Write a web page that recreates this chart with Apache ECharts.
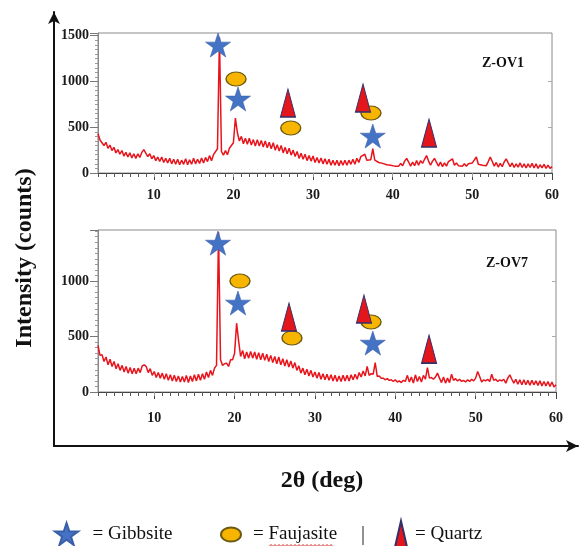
<!DOCTYPE html>
<html><head><meta charset="utf-8">
<script src="https://cdn.jsdelivr.net/npm/echarts@6/dist/echarts.min.js"></script>
<style>html,body{margin:0;padding:0;background:#fff}#c{width:579px;height:546px}</style>
</head><body><div id="c"></div>
<script>
// 2θ sampling grid: 3.00 … 60.00 deg, 0.25 deg step
const START = 3, STEP = 0.25;

// Z-OV1 intensities (counts), 4 samples per degree, rows = 3°,4°,…,59°, then 60°
const intensityOV1 = [
 430,360,370,300, 335,270,305,245, 280,220,255,205, 245,185,225,175,
 220,165,210,160, 210,170,225,255, 240,180,210,155, 190,135,175,125,
 175,115,160,110, 160,100,150,95, 150,90,140,95, 155,90,145,95,
 160,100,150,105, 165,110,170,125, 190,135,200,210, 265,1480,235,195,
 245,200,270,250, 330,600,440,350, 400,320,380,315, 380,305,365,295,
 365,295,355,285, 350,275,335,265, 330,250,310,240, 300,220,280,210,
 270,195,250,180, 235,160,215,150, 205,135,190,130, 185,115,170,110,
 165,100,155,95, 150,85,140,85, 140,80,135,85, 140,85,140,95,
 150,95,160,115, 180,170,205,140, 160,145,265,140, 135,115,120,105,
 115,90,105,85, 105,75,95,75, 105,80,130,160, 120,75,120,80,
 135,85,135,105, 150,190,130,85, 130,160,115,75, 120,70,110,75,
 125,110,155,85, 110,80,95,75, 100,75,100,80, 110,110,175,95,
 110,85,100,80, 125,175,125,75, 115,65,105,70, 120,155,110,70,
 110,60,100,65, 110,60,100,55, 100,60,105,55, 100,50,90,55,
 95,50,85,50, 70
];

// Z-OV7 intensities (counts)
const intensityOV7 = [
 420,330,335,275, 315,245,295,230, 275,210,255,195, 240,180,230,170,
 220,165,215,165, 215,175,235,245, 230,175,210,150, 185,130,175,125,
 170,115,165,105, 155,100,150,95, 145,90,140,90, 150,85,145,95,
 155,100,160,105, 165,115,180,130, 195,150,215,240, 1440,290,240,255,
 260,230,290,290, 350,620,460,320, 375,300,360,305, 365,305,360,295,
 355,290,350,285, 340,275,330,265, 320,255,315,245, 300,235,290,225,
 280,215,265,195, 235,170,215,155, 205,145,195,135, 180,125,175,115,
 165,110,160,105, 155,100,150,95, 145,95,150,100, 150,100,155,110,
 160,115,175,135, 190,145,230,150, 165,160,265,140, 145,125,125,110,
 120,105,110,95, 110,90,100,85, 105,95,150,90, 135,80,155,95,
 140,90,150,115, 220,125,130,115, 135,170,125,85, 135,80,125,85,
 160,105,120,100, 115,95,105,90, 110,95,115,100, 125,185,140,90,
 110,100,115,95, 160,105,115,95, 110,100,115,80, 125,155,115,80,
 115,70,110,65, 110,65,105,60, 105,65,100,60, 100,55,95,55,
 95,50,90,45, 65
];

// Phase markers [2θ, counts]
const gibbsiteOV1  = [[18.07,1399],[20.58,809],[37.5,404]];
const faujasiteOV1 = [[20.33,1027],[27.2,492],[37.27,656]];
const quartzOV1    = [[26.85,765],[36.27,820],[44.56,437]];
const gibbsiteOV7  = [[17.93,1342],[20.42,802],[37.2,441]];
const faujasiteOV7 = [[20.67,1000],[27.14,487],[36.98,631]];
const quartzOV7    = [[26.77,676],[36.1,748],[44.2,387]];

// Tick labels
const xTickLabels = [10,20,30,40,50,60];
const xTopTicks = [10,20,30,40,50];
const yTickLabelsOV1 = [0,500,1000,1500];
const yTickLabelsOV7 = [0,500,1000];
const yRightTicks = [500,1000];
const panelNames = ['Z-OV1','Z-OV7'];

const FONT = "'Liberation Serif','DejaVu Serif',serif";
const STAR = 'path://M50,0L61.2,34.5L97.6,34.5L68.2,55.9L79.4,90.5L50,69.1L20.6,90.5L31.8,55.9L2.4,34.5L38.8,34.5Z';
const ELLIPSE = 'path://M0,7A10,7 0 1,1 20,7A10,7 0 1,1 0,7Z';
const TRI = 'path://M6,0L12,26L0,26Z';

function toPairs(arr){ return arr.map((v,i)=>[START + i*STEP, v]); }

function panelAxes(gridIndex, yMax, yLabels){
  const xMain = {
    type:'value', gridIndex, min:3, max:60, interval:1, position:'bottom',
    axisLine:{show:true, onZero:false, lineStyle:{color:'#444', width:1}},
    axisTick:{show:true, length:4, lineStyle:{color:'#555'}},
    axisLabel:{show:false}, splitLine:{show:false}
  };
  const xMajor = {
    type:'value', gridIndex, min:3, max:60, position:'bottom',
    axisLine:{show:false},
    axisTick:{show:true, length:7, customValues:xTickLabels, lineStyle:{color:'#444'}},
    axisLabel:{show:true, customValues:xTickLabels, margin: gridIndex===0?15:19,
      fontFamily:FONT, fontWeight:'bold', fontSize:14, color:'#1a1a1a'},
    splitLine:{show:false}
  };
  const xTop = {
    type:'value', gridIndex, min:3, max:60, position:'top',
    axisLine:{show:false},
    axisTick:{show:true, inside:true, length:4, customValues:xTopTicks, lineStyle:{color:'#999'}},
    axisLabel:{show:false}, splitLine:{show:false}
  };
  const yLeft = {
    type:'value', gridIndex, min:0, max:yMax, interval:500, position:'left',
    axisLine:{show:true, lineStyle:{color:'#888'}},
    axisTick:{show:true, length:8, lineStyle:{color:'#777'}},
    minorTick:{show:true, splitNumber:10, length:3, lineStyle:{color:'#999'}},
    axisLabel:{show:true, margin:9, fontFamily:FONT, fontWeight:'bold', fontSize:14, color:'#1a1a1a',
      formatter:(v)=> yLabels.indexOf(v) >= 0 ? String(v) : ''},
    splitLine:{show:false}
  };
  const yRight = {
    type:'value', gridIndex, min:0, max:yMax, position:'right',
    axisLine:{show:false},
    axisTick:{show:true, inside:true, length:4, customValues:yRightTicks, lineStyle:{color:'#aaa'}},
    axisLabel:{show:false}, splitLine:{show:false}
  };
  return {x:[xMain, xMajor, xTop], y:[yLeft, yRight]};
}

const p0 = panelAxes(0, 1530, yTickLabelsOV1);
const p1 = panelAxes(1, 1460, yTickLabelsOV7);

const outerX = {type:'value', gridIndex:2, min:0, max:1, position:'bottom',
  axisLine:{show:true, onZero:false, symbol:['none','arrow'], symbolSize:[9,12], lineStyle:{color:'#111', width:2}},
  axisTick:{show:false}, axisLabel:{show:false}, splitLine:{show:false}};
const outerY = {type:'value', gridIndex:2, min:0, max:1, position:'left',
  axisLine:{show:true, onZero:false, symbol:['none','arrow'], symbolSize:[9,12], lineStyle:{color:'#111', width:2}},
  axisTick:{show:false}, axisLabel:{show:false}, splitLine:{show:false}};

const xAxes = [...p0.x, ...p1.x, outerX];   // 0..2 top panel, 3..5 bottom panel, 6 outer
const yAxes = [...p0.y, ...p1.y, outerY];   // 0..1 top panel, 2..3 bottom panel, 4 outer

const lineStyle = {color:'#e8141c', width:1.5};
const starStyle = {color:'#4472c4', borderColor:'#3a5fa8', borderWidth:0.6, opacity:1};
const ellStyle = {color:'#f7b500', borderColor:'#6b5a14', borderWidth:1.2, opacity:1};
const triStyle = {color:'#e3161c', borderColor:'#33306a', borderWidth:1.2, opacity:1};

function markerSeries(xi, yi, g, f, q){
  return [
    {name:'Faujasite', type:'scatter', xAxisIndex:xi, yAxisIndex:yi, symbol:ELLIPSE, symbolSize:[20,14], itemStyle:ellStyle, data:f, z:3, silent:true},
    {name:'Quartz', type:'scatter', xAxisIndex:xi, yAxisIndex:yi, symbol:TRI, symbolSize:[15,28], itemStyle:triStyle, data:q, z:4, silent:true},
    {name:'Gibbsite', type:'scatter', xAxisIndex:xi, yAxisIndex:yi, symbol:STAR, symbolSize:[25,24], itemStyle:starStyle, data:g, z:5, silent:true}
  ];
}

const squiggle = [];
for (let x = 269, k = 0; x <= 333; x += 2, k++) squiggle.push([x, k % 2 ? 544.5 : 546.5]);

const legendText = {fontFamily:FONT, fontSize:19, color:'#111'};

const option = {
  animation:false,
  backgroundColor:'#fff',
  grid:[
    {left:98, top:33, width:454, height:140, show:true, borderColor:'#8a8a8a', borderWidth:1, backgroundColor:'transparent'},
    {left:98, top:230, width:458, height:162, show:true, borderColor:'#8a8a8a', borderWidth:1, backgroundColor:'transparent'},
    {left:54, top:12, right:1, bottom:100}
  ],
  xAxis: xAxes,
  yAxis: yAxes,
  legend:[
    {data:['Gibbsite'], left:54, top:522, padding:0, itemWidth:42, itemHeight:22, formatter:'= Gibbsite', textStyle:legendText, selectedMode:false},
    {data:['Faujasite'], left:220, top:525, padding:0, itemWidth:34, itemHeight:14, formatter:'= Faujasite', textStyle:legendText, selectedMode:false},
    {data:['Quartz'], left:394, top:520, padding:0, itemWidth:18, itemHeight:26, formatter:'= Quartz', textStyle:legendText, selectedMode:false}
  ],
  graphic:[
    {type:'text', x:503, y:63, style:{text:panelNames[0], font:"bold 14px "+FONT, fill:'#111', align:'center', verticalAlign:'middle'}},
    {type:'text', x:507, y:263, style:{text:panelNames[1], font:"bold 14px "+FONT, fill:'#111', align:'center', verticalAlign:'middle'}},
    {type:'text', x:25, y:258, rotation:Math.PI/2, style:{text:'Intensity (counts)', font:"bold 24px "+FONT, fill:'#111', align:'center', verticalAlign:'middle'}},
    {type:'text', x:322, y:481, style:{text:'2θ (deg)', font:"bold 24px "+FONT, fill:'#111', align:'center', verticalAlign:'middle'}},
    {type:'line', shape:{x1:363, y1:526, x2:363, y2:545}, style:{stroke:'#222', lineWidth:1}},
    {type:'polyline', shape:{points:squiggle}, style:{stroke:'#d02020', lineWidth:1, fill:null}}
  ],
  series:[
    {name:'Z-OV1', type:'line', xAxisIndex:0, yAxisIndex:0, data:toPairs(intensityOV1), showSymbol:false, symbol:'none', lineStyle:lineStyle, z:2, silent:true},
    {name:'Z-OV7', type:'line', xAxisIndex:3, yAxisIndex:2, data:toPairs(intensityOV7), showSymbol:false, symbol:'none', lineStyle:lineStyle, z:2, silent:true},
    ...markerSeries(0, 0, gibbsiteOV1, faujasiteOV1, quartzOV1),
    ...markerSeries(3, 2, gibbsiteOV7, faujasiteOV7, quartzOV7)
  ]
};

const chart = echarts.init(document.getElementById('c'), null, {renderer:'canvas'});
chart.setOption(option);
</script>
</body></html>
